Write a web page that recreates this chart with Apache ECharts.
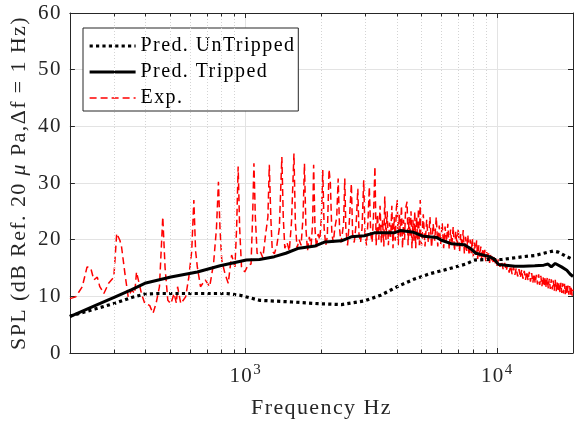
<!DOCTYPE html>
<html>
<head>
<meta charset="utf-8">
<script src="https://cdn.jsdelivr.net/npm/echarts@6/dist/echarts.min.js"></script>
<style>
html,body{margin:0;padding:0;background:#fff;}
#c{width:576px;height:424px;}
</style>
</head>
<body>
<div id="c"></div>
<script>
// ---- data ----
const untrippedFreq = [200,253,303,352,397,450,600,840,947,1134,1531,1946,2402,2965,3443,4000,4652,5403,6100,7516,8100,9252,10000,10430,12700,14090,15300,16700,17500,18900,20000];
const untrippedSPL  = [6.5,7.8,8.8,9.8,10.4,10.5,10.5,10.5,10.2,9.3,9.0,8.7,8.55,9.2,10.2,11.7,13.0,14.0,14.6,15.7,16.4,16.5,16.5,16.5,17.0,17.2,17.6,18.0,17.8,17.0,16.5];

const trippedFreq = [200,253,303,352,397,504,642,791,1006,1134,1300,1443,1626,1890,2068,2402,2628,2965,3245,3882,4122,4652,5090,5739,6000,6560,7400,7900,8224,9300,9700,10128,11770,12700,14090,15300,15917,16400,17000,18000,18900,19500,20000];
const trippedSPL  = [6.4,8.4,9.9,11.2,12.3,13.4,14.3,15.4,16.4,16.5,17.0,17.6,18.5,18.9,19.6,19.8,20.5,20.7,21.2,21.2,21.6,21.3,20.6,20.4,19.9,19.3,19.1,18.3,17.6,17.0,16.6,15.6,15.3,15.3,15.4,15.5,15.7,15.2,15.8,15.2,14.6,13.9,13.5];

const expFreq = [
  200,211,224,234,242,249,257,263,273,285,299,307,316,321,331,341,352,362,368,374,385,397,415,428,440,454,468,478,490,504,519,530,536,552,577,594,610,622,632,642,661,690,719,745,765,779,790,803,827,852,879,906,920,933,946,962,991,
  1021,1050,1065,1078,1092,1110,1140,1170,1200,1225,1241,1258,1275,1300,1330,1360,1392,1410,1430,1460,1490,1520,1555,1575,1600,1630,1660,1690,1712,1735,1760,1790,1820,1845,1862,1885,1910,1940,1970,
  2000,2024,2050,2080,2110,2144,2170,2200,2230,2260,2300,2331,2360,2390,2420,2450,2476,2500,2540,2580,2630,2660,2700,2750,2790,2820,2860,2900,2945,2980,3020,3060,3100,3140,3180,3220,3263,
  3300,3340,3380,3420,3460,3500,3540,3570,3610,3650,3690,3730,3770,3810,3850,3890,3930,3970,4000,4040,4080,4120,4160,4200,4240,4280,4320,4380,4420,4460,4500,4540,4580,4620,4660,4700,4740,4780,4820,4860,4900,4940,4970,
  5000,5080,5160,5240,5320,5400,5480,5560,5640,5720,5800,5880,5960,6040,6120,6200,6280,6360,6440,6520,6600,6680,6760,6840,6920,7000,7080,7160,7240,7320,7400,7480,7560,7640,7720,7800,7880,7960,8040,8120,8200,8280,8360,8440,8520,8600,8680,8760,8840,8920,9000,9080,9160,9240,9320,9400,9480,9560,9640,9720,9800,9880,9960,
  10100,10250,10400,10550,10700,10850,11000,11150,11300,11450,11600,11750,11900,12050,12200,12350,12500,12650,12800,12950,13100,13250,13400,13550,13700,13850,14000,14150,14300,14450,14600,14750,14900,15050,15200,15350,15500,15650,15800,15950,16100,16250,16400,16550,16700,16850,17000,17150,17300,17450,17600,17750,17900,18050,18200,18350,18500,18650,18800,18950,19100,19250,19400,19550,19700,19850,20000];
const expSPL = [
  9.6,9.9,11.7,15.2,15.0,12.9,13.4,11.7,10.5,12.3,13.4,21.1,19.9,18.7,14.0,9.9,11.1,10.5,14.3,14.0,10.5,8.7,8.4,7.0,8.7,11.7,24.0,15.0,9.3,8.7,10.5,8.8,11.7,8.7,9.9,13.4,18.0,27.0,18.0,15.2,11.7,12.9,11.7,15.8,22.0,30.2,22.0,16.4,14.0,12.3,17.3,15.2,22.0,32.9,22.0,15.2,14.3,
  15.5,15.7,24.0,33.5,24.0,17.5,18.0,16.8,21.0,24.0,33.2,24.0,18.0,17.5,19.0,22.0,34.6,24.0,18.5,19.5,18.0,23.0,35.2,23.0,18.5,20.0,19.0,24.0,33.4,22.0,18.0,20.5,19.0,23.0,33.2,22.0,18.5,21.0,20.0,
  24.0,32.3,22.0,19.0,20.5,32.4,30.0,21.0,19.5,22.0,24.0,30.8,22.0,19.5,21.0,23.0,30.8,22.0,19.0,23.0,29.9,21.0,19.5,23.0,29.0,21.0,19.5,22.0,30.5,21.0,19.0,23.0,29.3,21.0,19.5,24.0,32.9,
  19.0,24.5,20.0,26.0,19.5,23.5,18.8,27.6,20.0,25.0,19.0,23.0,20.5,26.0,18.5,24.0,19.8,25.5,27.0,19.0,24.5,20.5,26.0,18.5,23.5,20.0,25.5,26.7,19.0,24.0,20.5,25.0,18.5,23.5,19.8,25.0,18.5,24.0,20.0,25.5,19.0,27.0,20.0,
  19.0,24.5,18.8,23.5,19.5,24.0,18.6,22.8,19.8,24.0,18.8,22.5,19.2,23.0,18.5,22.3,19.5,22.8,18.3,21.8,19.0,22.3,18.0,21.5,18.8,22.0,17.8,21.0,18.5,21.7,17.5,20.5,18.0,20.8,17.2,20.0,17.6,20.3,16.8,19.5,17.3,19.9,16.6,19.0,17.0,18.8,16.4,18.5,16.8,18.2,16.2,17.8,16.5,17.6,15.9,17.3,16.2,17.0,15.7,16.9,15.8,16.6,15.4,
  16.5,15.2,16.2,14.8,15.9,14.5,15.6,14.2,15.4,13.9,15.2,13.8,15.0,13.5,14.8,13.3,14.7,13.1,14.5,12.9,14.4,12.8,14.3,12.6,14.1,12.4,14.0,12.3,13.8,12.1,13.9,12.0,13.6,11.8,13.5,11.7,13.4,11.5,13.3,11.4,13.1,11.3,13.0,11.2,12.8,11.0,12.9,10.9,12.6,10.8,12.5,10.7,12.4,10.6,12.3,10.5,12.2,10.4,12.0,10.4,11.9,10.3,11.8,10.2,11.7,10.1,11.2];

const seriesNames = ['Pred. UnTripped','Pred. Tripped','Exp.'];
const minorTicks = [300,400,500,600,700,800,900,2000,3000,4000,5000,6000,7000,8000,9000];
const yTicks = [0,10,20,30,40,50,60];

// ---- chart ----
const FONT = 'Liberation Serif';
const AX = '#262626';
const LS = 1.4; // MATLAB-like letter spacing (px)
const zip = (xs, ys) => xs.map((x, i) => [x, ys[i]]);

const gridMarks = [];
minorTicks.forEach(f => {
  gridMarks.push([{coord:[f, yTicks[0]], lineStyle:{color:'#d4d4d4', type:[1,2], width:1}}, {coord:[f, yTicks[yTicks.length-1]]}]);
  gridMarks.push([{coord:[f, yTicks[0]], lineStyle:{color:AX, type:'solid', width:1}}, {coord:[f, 0.6]}]);
  gridMarks.push([{coord:[f, yTicks[yTicks.length-1]], lineStyle:{color:AX, type:'solid', width:1}}, {coord:[f, 59.4]}]);
});

const supLabel = v => {
  const e = Math.log10(v);
  if (Math.abs(e - Math.round(e)) < 1e-6) return '{b|10}{s|' + Math.round(e) + '}';
  return '';
};

const part1 = 'SPL (dB Ref. 20 ', part2 = 'μ', part3 = ' Pa,Δf = 1 Hz)';

const option = {
  animation: false,
  backgroundColor: '#fff',
  grid: {left: 68, right: 0, top: 13, bottom: 71, containLabel: false},
  legend: {
    data: seriesNames,
    orient: 'vertical',
    left: 83, top: 28,
    padding: [8, 24, 3, 5],
    itemWidth: 46, itemHeight: 20, itemGap: 6,
    backgroundColor: '#fff',
    borderColor: AX, borderWidth: 1, borderRadius: 0,
    itemStyle: {opacity: 0},
    lineStyle: {width: 'inherit'},
    textStyle: {fontFamily: FONT, fontSize: 20, color: '#000', lineHeight: 20},
    selectedMode: false
  },
  xAxis: [{
    type: 'log', logBase: 10, min: 200, max: 20000,
    name: 'Frequency Hz', nameLocation: 'middle', nameGap: 44,
    nameTextStyle: {fontFamily: FONT, fontSize: 22, color: AX},
    axisLine: {show: true, onZero: false, lineStyle: {color: AX, width: 1}},
    axisTick: {show: true, inside: true, length: 5, lineStyle: {color: AX}},
    minorTick: {show: false},
    axisLabel: {
      margin: 10, color: AX, fontFamily: FONT,
      formatter: supLabel,
      rich: {
        b: {fontSize: 21, fontFamily: FONT, color: AX, align: 'left', verticalAlign: 'bottom', padding: [0, 2 * LS, 0, 0]},
        s: {fontSize: 15, fontFamily: FONT, color: AX, align: 'left', verticalAlign: 'bottom', padding: [0, LS, 9, 0]}
      }
    },
    splitLine: {show: true, lineStyle: {color: '#e3e3e3', width: 1}}
  }, {
    type: 'log', logBase: 10, min: 200, max: 20000, position: 'top',
    axisLine: {show: true, onZero: false, lineStyle: {color: AX, width: 1}},
    axisTick: {show: true, inside: true, length: 5, lineStyle: {color: AX}},
    axisLabel: {show: false}, splitLine: {show: false}
  }],
  yAxis: [{
    type: 'value', min: yTicks[0], max: yTicks[yTicks.length-1], interval: 10,
    name: '{n|' + part1 + '}{i|' + part2 + '}{m|' + part3 + '}',
    nameLocation: 'middle', nameGap: 34, nameRotate: 90,
    nameTextStyle: {
      fontFamily: FONT, fontSize: 22, color: AX,
      rich: {
        n: {fontFamily: FONT, fontSize: 22, color: AX, align: 'left', padding: [0, part1.length * LS, 0, 0]},
        i: {fontFamily: FONT, fontSize: 22, color: AX, align: 'left', fontStyle: 'italic', padding: [0, LS, 0, 0]},
        m: {fontFamily: FONT, fontSize: 22, color: AX, align: 'left', padding: [0, part3.length * LS, 0, 0]}
      }
    },
    axisLine: {show: true, lineStyle: {color: AX, width: 1}},
    axisTick: {show: true, inside: true, length: 5, lineStyle: {color: AX}},
    axisLabel: {margin: 8, fontFamily: FONT, fontSize: 21, color: AX},
    splitLine: {show: true, lineStyle: {color: '#e3e3e3', width: 1}}
  }, {
    type: 'value', min: yTicks[0], max: yTicks[yTicks.length-1], interval: 10, position: 'right',
    axisLine: {show: true, lineStyle: {color: AX, width: 1}},
    axisTick: {show: true, inside: true, length: 5, lineStyle: {color: AX}},
    axisLabel: {show: false}, splitLine: {show: false}
  }],
  series: [
    {
      name: 'grid-helper', type: 'line', data: [], z: 1, silent: true,
      markLine: {silent: true, symbol: ['none','none'], label: {show: false}, animation: false, data: gridMarks}
    },
    {
      name: seriesNames[2], type: 'line', data: zip(expFreq, expSPL), z: 3,
      symbol: 'none', showSymbol: false,
      lineStyle: {color: '#ff0000', width: 1.5, type: [7, 4]},
      itemStyle: {color: '#ff0000'}
    },
    {
      name: seriesNames[0], type: 'line', data: zip(untrippedFreq, untrippedSPL), z: 4,
      symbol: 'none', showSymbol: false,
      lineStyle: {color: '#000', width: 3.2, type: [3.2, 3.2], cap: 'butt'},
      itemStyle: {color: '#000'}
    },
    {
      name: seriesNames[1], type: 'line', data: zip(trippedFreq, trippedSPL), z: 5,
      symbol: 'none', showSymbol: false,
      lineStyle: {color: '#000', width: 3, type: 'solid'},
      itemStyle: {color: '#000'}
    }
  ]
};

const chart = echarts.init(document.getElementById('c'), null, {renderer: 'canvas'});
chart.setOption(option);
document.querySelectorAll('#c canvas').forEach(cv => {
  const ctx = cv.getContext('2d');
  if ('letterSpacing' in ctx) ctx.letterSpacing = LS + 'px';
});
chart.clear();
chart.setOption(option);
</script>
</body>
</html>
